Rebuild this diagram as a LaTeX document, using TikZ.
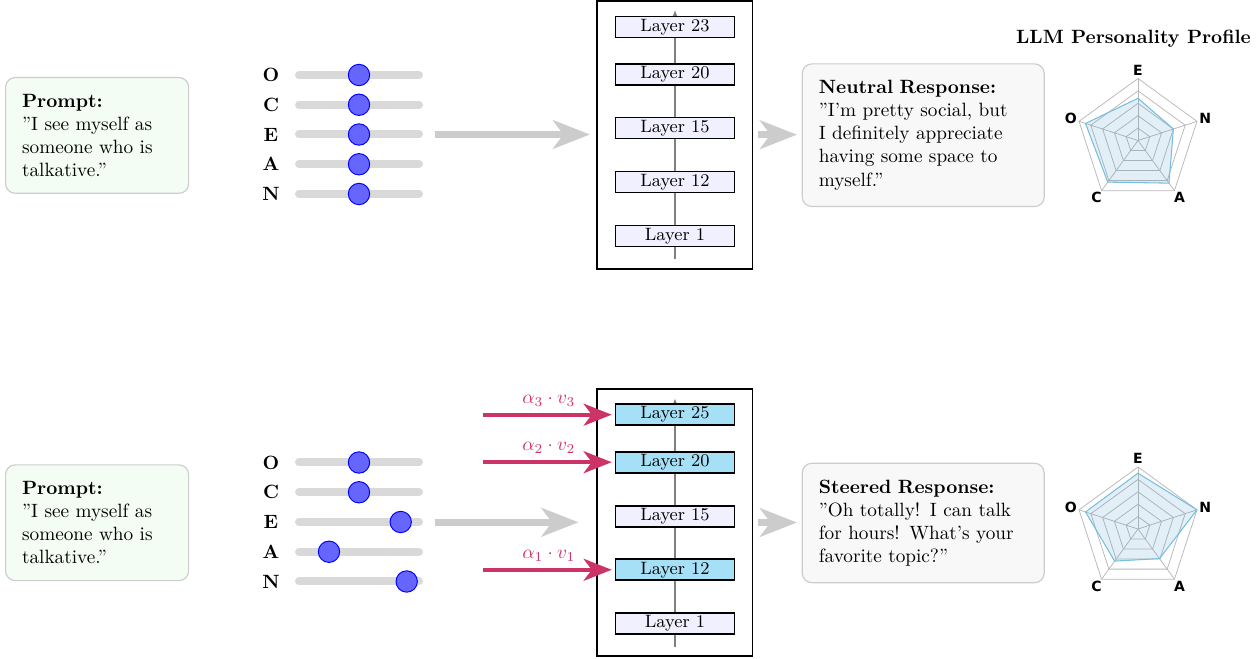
\documentclass[tikz,border=0pt]{standalone}
\usepackage{fontspec}
\newfontfamily\labfont{DejaVu Sans}
\usetikzlibrary{arrows.meta}
\definecolor{crim}{RGB}{204,51,102}
\definecolor{lav}{RGB}{240,240,255}
\definecolor{sky}{RGB}{166,224,247}
\definecolor{greenbg}{RGB}{243,253,243}
\definecolor{graybg}{RGB}{248,248,248}
\definecolor{rfill}{RGB}{70,150,200}
\definecolor{rline}{RGB}{120,190,222}
\definecolor{knobc}{RGB}{102,102,255}
\definecolor{trackc}{RGB}{217,217,217}
\definecolor{arrowc}{RGB}{204,204,204}
\newcommand\myradar[7]{%
  \begin{scope}[shift={#1}]
    \foreach \r in {12.4,24.8,37.2,49.6,62}
      \draw[radgrid] (-90:\r) -- (-18:\r) -- (54:\r) -- (126:\r) -- (198:\r) -- cycle;
    \foreach \a in {-90,-18,54,126,198}
      \draw[radgrid] (0,0) -- (\a:62);
    \draw[raddata] (-90:{62*#3}) -- (-18:{62*#4}) -- (54:{62*#5}) -- (126:{62*#6}) -- (198:{62*#7}) -- cycle;
    \node[radlab] (#2E) at (-90:70.6) {E};
    \node[radlab] (#2N) at (-18:70.6) {N};
    \node[radlab] (#2A) at (54:70.6) {A};
    \node[radlab] (#2C) at (126:70.6) {C};
    \node[radlab] (#2O) at (198:70.6) {O};
  \end{scope}}
\begin{document}
\begin{tikzpicture}[x=0.52pt,y=-0.52pt,
  textbox/.style={draw=gray!40, line width=0.6pt, rounded corners=5pt, inner sep=8.6pt, align=left, anchor=north west},
  oceanlab/.style={font=\bfseries, inner sep=0pt},
  track/.style={draw=trackc, line width=4.16pt, line cap=round},
  knobst/.style={circle, fill=knobc, draw=blue, line width=0.5pt, minimum size=11.1pt, inner sep=0pt},
  stackbox/.style={draw=black, line width=1pt, minimum width=81pt, minimum height=139.3pt, inner sep=0pt},
  layerbox/.style={draw=black, line width=0.9pt, fill=lav, minimum width=61.9pt, minimum height=10.9pt, inner sep=0pt, font=\fontsize{9.3}{11}\selectfont},
  steerbox/.style={layerbox, fill=sky},
  spine/.style={draw=gray, line width=0.7pt, -{Latex[length=3.2pt,width=2.6pt]}},
  bigarrow/.style={draw=arrowc, line width=3.5pt, -{Stealth[length=19.2pt,width=14.8pt,inset=5.4pt]}},
  redarrow/.style={draw=crim, line width=2.1pt, -{Stealth[length=14.6pt,width=11.4pt,inset=4.2pt]}, shorten >=1.5pt},
  redlab/.style={text=crim, font=\normalsize},
  radgrid/.style={draw=gray!55, line width=0.4pt},
  raddata/.style={draw=rline, line width=0.55pt, fill=rfill, fill opacity=0.15},
  radlab/.style={font=\labfont\bfseries\fontsize{7.3}{8}\selectfont, inner sep=0pt}
]
\useasboundingbox (0,0) rectangle (1260,659);

% ---------- prompts ----------
\node[textbox, fill=greenbg, text width=78pt] (p1) at (5,77)
  {\textbf{Prompt:}\\ ”I see myself as\\ someone who is\\ talkative.”};
\node[textbox, fill=greenbg, text width=78pt] (p2) at (5,464.3)
  {\textbf{Prompt:}\\ ”I see myself as\\ someone who is\\ talkative.”};

% ---------- sliders ----------
\foreach \L/\y/\k in {O/75/359, C/104.75/359, E/134.5/359, A/164.25/359, N/194/359}{
  \node[oceanlab] (a\L) at (271,\y) {\L};
  \draw[track] (299,\y) -- (419,\y);
  \node[knobst] (ka\L) at (\k,\y) {};
}
\foreach \L/\y/\k in {O/462.5/359, C/492.25/359, E/522/400.7, A/551.75/329, N/581.5/406.7}{
  \node[oceanlab] (b\L) at (271,\y) {\L};
  \draw[track] (299,\y) -- (419,\y);
  \node[knobst] (kb\L) at (\k,\y) {};
}

% ---------- layer stacks ----------
\node[stackbox] (S1) at (674.6,134.7) {};
\coordinate (s1b) at (675,259);
\coordinate (s1t) at (675,10);
\draw[spine] (s1b) -- (s1t);
\node[layerbox] (t23) at (675,27) {Layer 23};
\node[layerbox] (t20) at (675,74.7) {Layer 20};
\node[layerbox] (t15) at (675,128) {Layer 15};
\node[layerbox] (t12) at (675,182) {Layer 12};
\node[layerbox] (t1)  at (675,236) {Layer 1};

\node[stackbox] (S2) at (674.6,522.5) {};
\coordinate (s2b) at (675,647);
\coordinate (s2t) at (675,398.3);
\draw[spine] (s2b) -- (s2t);
\node[steerbox] (b25) at (675,414.7) {Layer 25};
\node[steerbox] (b20) at (675,462.2) {Layer 20};
\node[layerbox] (b15) at (675,516.2) {Layer 15};
\node[steerbox] (b12) at (675,569.8) {Layer 12};
\node[layerbox] (b1)  at (675,623.7) {Layer 1};

% ---------- big gray arrows ----------
\coordinate (g1a) at (435,134.5);
\coordinate (g1b) at (590,134.5);
\draw[bigarrow] (g1a) -- (g1b);
\coordinate (g2a) at (435,522.3);
\coordinate (g2b) at (578.5,522.3);
\draw[bigarrow] (g2a) -- (g2b);

% ---------- responses ----------
\node[textbox, fill=graybg, text width=108.6pt] (r1) at (801.7,63.3)
  {\textbf{Neutral Response:}\\ ”I’m pretty social, but\\ I definitely appreciate\\ having some space to\\ myself.”};
\node[textbox, fill=graybg, text width=108.6pt] (r2) at (801.7,462.7)
  {\textbf{Steered Response:}\\ ”Oh totally! I can talk\\ for hours! What’s your\\ favorite topic?”};

\draw[bigarrow, shorten <=2.45pt, shorten >=2.45pt] (S1.east) -- (S1.east -| r1.west);
\draw[bigarrow, shorten <=2.45pt, shorten >=2.45pt] (S2.east) -- (S2.east -| r2.west);

% ---------- steering vectors ----------
\coordinate (v3) at (483,414.7);
\coordinate (v2) at (483,462.2);
\coordinate (v1) at (483,569.8);
\draw[redarrow] (v3) -- node[redlab, above] (l3) {$\alpha_3\cdot v_3$} (v3 -| b25.west);
\draw[redarrow] (v2) -- node[redlab, above] (l2) {$\alpha_2\cdot v_2$} (v2 -| b20.west);
\draw[redarrow] (v1) -- node[redlab, above] (l1) {$\alpha_1\cdot v_1$} (v1 -| b12.west);

% ---------- radar charts ----------
\node[font=\bfseries, anchor=base] (title) at (1133.5,43.3) {LLM Personality Profile};
\myradar{(1138,140.5)}{ra}{0.68}{0.6}{0.85}{0.83}{0.89}
\myradar{(1138,529)}{rb}{0.9}{1.0}{0.59}{0.64}{0.89}
\end{tikzpicture}
\end{document}
